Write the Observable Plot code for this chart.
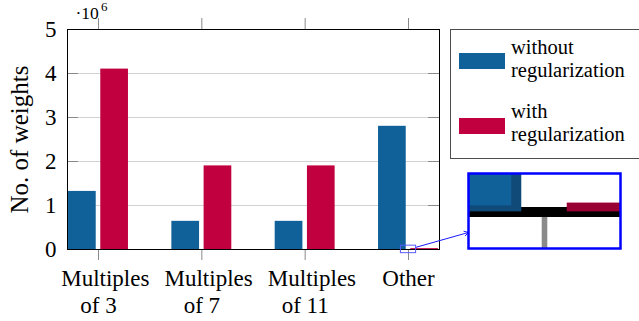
<!DOCTYPE html>
<html><head><meta charset="utf-8">
<script src="https://cdn.jsdelivr.net/npm/d3@7"></script>
<script src="https://cdn.jsdelivr.net/npm/@observablehq/plot@0.6"></script>
<style>
body{margin:0;background:#fff;}
#chart{position:relative;width:639px;height:321px;overflow:hidden;font-family:"Liberation Serif",serif;background:#fff;}
#chart svg{position:absolute;overflow:visible;}
.lg{font-family:"Liberation Serif",serif;}
</style></head><body><div id="chart"></div>
<script>
// ---- data ----
const categoryLines = [["Multiples","of 3"],["Multiples","of 7"],["Multiples","of 11"],["Other"]];
const withoutReg = [1320000, 640000, 640000, 2800000];
const withReg = [4100000, 1900000, 1900000, 20000];
const seriesNames = [["without","regularization"],["with","regularization"]];
const yTicks = [0, 1000000, 2000000, 3000000, 4000000, 5000000];
const yTickLabels = ["0","1","2","3","4","5"];
const yAxisLabel = "No. of weights";
const yExponent = ["·10", "6"];

// ---- style / layout ----
const colors = ["#10609a", "#c1003f"];
const darkColors = ["#0f4a78", "#990033"];
const W = 639, H = 321, mL = 67, mR = 200, mT = 29, mB = 72;
const xDomain = [-0.3, 3.3], yDomain = [0, 5000000];
const barW = 0.268, barGap = 0.022;
const pxX = (W - mL - mR) / (xDomain[1] - xDomain[0]);
const pxY = (H - mT - mB) / (yDomain[1] - yDomain[0]);
const tickPx = 11;
const tickLenX = tickPx / pxX, tickLenY = tickPx / pxY;
const xTicks = categoryLines.map((_, i) => i);
const mag = 10;
const inset = {left: 468, top: 173, w: 152, h: 75};
const spy = {x: 3, y: 2000};
const hw = inset.w / 2 / mag / pxX, hh = inset.h / 2 / mag / pxY;

const bars = categoryLines.map((_, i) => ({i, a: withoutReg[i], b: withReg[i]}));
const bx1 = [d => d.i - barGap - barW, d => d.i + barGap];
const bx2 = [d => d.i - barGap, d => d.i + barGap + barW];
const bval = [d => d.a, d => d.b];

function layers(k, clip) {
  const tw = k === 1 ? 1 : 0.56 * k;
  const tc = "#8a8a8a";
  const out = [
    Plot.gridY(yTicks, {stroke: "#d2d2d2", strokeOpacity: 1, strokeWidth: k, clip}),
    Plot.ruleY(yTicks, {x1: xDomain[0], x2: xDomain[0] + tickLenX, stroke: tc, strokeWidth: tw, clip}),
    Plot.ruleY(yTicks, {x1: xDomain[1] - tickLenX, x2: xDomain[1], stroke: tc, strokeWidth: tw, clip}),
    Plot.ruleX(xTicks, {y1: yDomain[0], y2: yDomain[0] - tickLenY, stroke: tc, strokeWidth: tw, clip}),
    Plot.ruleX(xTicks, {y1: yDomain[1], y2: yDomain[1] + tickLenY, stroke: tc, strokeWidth: tw, clip}),
    Plot.ruleY([yDomain[0]], {stroke: "#000", strokeWidth: k, clip})
  ];
  for (let s = 0; s < 2; s++) {
    if (k > 1) {
      out.push(Plot.rect(bars, {x1: bx1[s], x2: bx2[s], y1: 0, y2: bval[s], fill: darkColors[s], clip}));
      out.push(Plot.rect(bars, {x1: bx1[s], x2: bx2[s], y1: 0, y2: bval[s], fill: colors[s],
        insetLeft: k, insetRight: k, insetTop: k, insetBottom: 0.6 * k, clip}));
    } else {
      out.push(Plot.rect(bars, {x1: bx1[s], x2: bx2[s], y1: 0, y2: bval[s], fill: colors[s], clip}));
    }
  }
  return out;
}

// arrow from spy rect to inset (centre to centre, clipped at both rectangles)
const sx = d3.scaleLinear(xDomain, [mL, W - mR]);
const sy = d3.scaleLinear(yDomain, [H - mB, mT]);
const c0 = [sx(spy.x), sy(spy.y)], c1 = [inset.left + inset.w / 2, inset.top + inset.h / 2];
const dxp = c1[0] - c0[0], dyp = c1[1] - c0[1];
const t0 = Math.min((inset.w / 2 / mag) / Math.abs(dxp), (inset.h / 2 / mag) / Math.abs(dyp));
const t1 = 1 - Math.min((inset.w / 2) / Math.abs(dxp), (inset.h / 2) / Math.abs(dyp));
const arrowRow = [{
  x1: sx.invert(c0[0] + t0 * dxp), y1: sy.invert(c0[1] + t0 * dyp),
  x2: sx.invert(c0[0] + t1 * dxp), y2: sy.invert(c0[1] + t1 * dyp)
}];

const rows = categoryLines.map((lines, i) => ({i, lines}));
const multi = rows.filter(r => r.lines.length > 1);
const single = rows.filter(r => r.lines.length === 1);
const fs = 23;

const main = Plot.plot({
  width: W, height: H,
  marginLeft: mL, marginRight: mR, marginTop: mT, marginBottom: mB,
  x: {domain: xDomain, range: [mL, W - mR], axis: null},
  y: {domain: yDomain, range: [H - mB, mT], axis: null},
  style: {fontFamily: "Liberation Serif", background: "transparent", overflow: "visible"},
  marks: [
    ...layers(1, false),
    Plot.frame({stroke: "#000", strokeWidth: 1}),
    Plot.text(yTicks, {y: d => d, frameAnchor: "left", dx: -11, textAnchor: "end",
      text: (d, i) => yTickLabels[i], fontSize: fs}),
    Plot.text(multi, {x: "i", y: 0, text: r => r.lines[0], textAnchor: "start", dx: -37.3, dy: 29.6, fontSize: fs}),
    Plot.text(single, {x: "i", y: 0, text: r => r.lines[0], dy: 29.6, fontSize: fs}),
    Plot.text(multi, {x: "i", y: 0, text: r => r.lines[1], dy: 56.3, fontSize: fs}),
    Plot.text([yAxisLabel], {frameAnchor: "left", textAnchor: "middle", rotate: -90, dx: -48, fontSize: 25}),
    Plot.text([yExponent[0]], {frameAnchor: "top-left", dx: 8, dy: -10.7, textAnchor: "start", lineAnchor: "bottom", fontSize: 17.5}),
    Plot.text([yExponent[1]], {frameAnchor: "top-left", dx: 33.5, dy: -19, textAnchor: "start", lineAnchor: "bottom", fontSize: 13}),
    Plot.rect([spy], {x1: d => d.x - hw, x2: d => d.x + hw, y1: d => d.y - hh, y2: d => d.y + hh,
      fill: "none", stroke: "#5a5aff", strokeWidth: 1}),
    Plot.arrow(arrowRow, {x1: "x1", y1: "y1", x2: "x2", y2: "y2", stroke: "#1a1aff", strokeWidth: 1, headLength: 7})
  ]
});
main.style.left = "0px"; main.style.top = "0px";

const insetPlot = Plot.plot({
  width: inset.w, height: inset.h, margin: 0,
  x: {domain: [spy.x - hw, spy.x + hw], axis: null},
  y: {domain: [spy.y - hh, spy.y + hh], axis: null},
  style: {background: "#fff", overflow: "visible"},
  marks: [
    ...layers(mag, true),
    Plot.frame({stroke: "#0000ff", strokeWidth: 2.5})
  ]
});
insetPlot.style.left = inset.left + "px"; insetPlot.style.top = inset.top + "px";

const chart = document.getElementById("chart");
chart.appendChild(main);
chart.appendChild(insetPlot);

// legend
const legend = document.createElement("div");
legend.style.cssText = "position:absolute;left:450px;top:29px;width:200px;height:130px;border:1px solid #4d4d4d;box-sizing:border-box;background:#fff;";
seriesNames.forEach((lines, s) => {
  const sw = document.createElement("div");
  sw.style.cssText = `position:absolute;left:8.3px;top:${23.3 + 64.4 * s}px;width:46px;height:16px;background:${colors[s]};`;
  const tx = document.createElement("div");
  tx.className = "lg";
  tx.style.cssText = `position:absolute;left:60px;top:${5.7 + 64 * s}px;font-size:20.5px;line-height:23.4px;white-space:pre;color:#000;font-family:'Liberation Serif',serif;`;
  tx.textContent = lines.join("\n");
  legend.appendChild(sw); legend.appendChild(tx);
});
chart.appendChild(legend);
</script></body></html>
